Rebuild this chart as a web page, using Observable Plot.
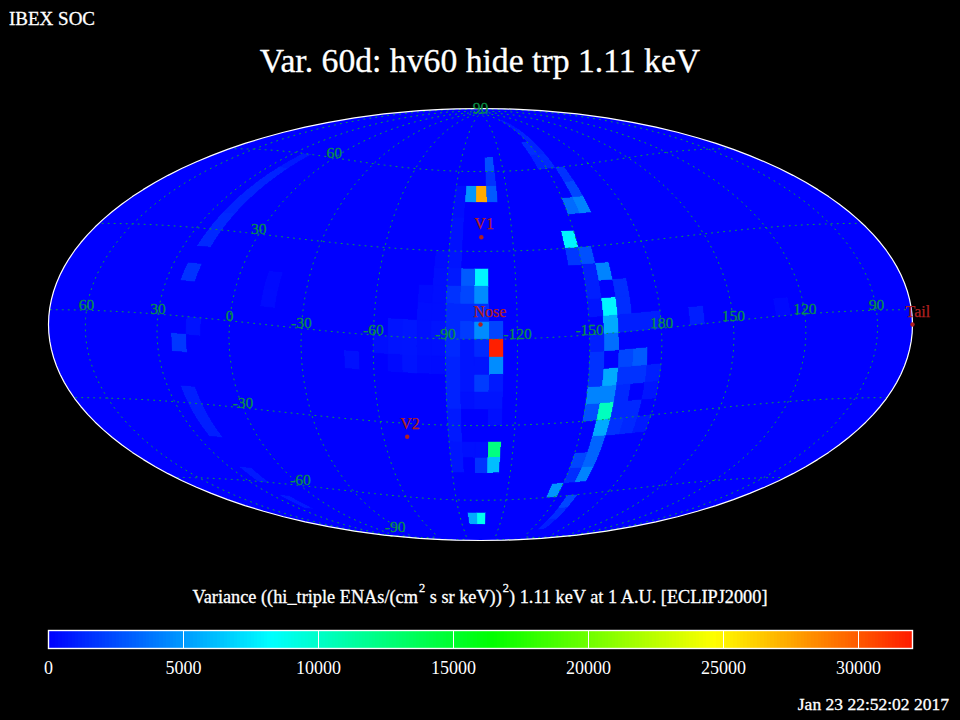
<!DOCTYPE html>
<html><head><meta charset="utf-8">
<script src="https://cdn.jsdelivr.net/npm/d3@7"></script>
<script src="https://cdn.jsdelivr.net/npm/@observablehq/plot@0.6"></script>
<style>
html,body{margin:0;background:#000;color:#fff}
body{position:relative;width:960px;height:720px;overflow:hidden;font-family:"Liberation Serif",serif}
.t{position:absolute;white-space:nowrap;color:#fff;-webkit-text-stroke:0.3px #fff}
sup{font-size:68%;line-height:0;vertical-align:baseline;position:relative;top:-.85em;margin-left:1px}
svg{display:block;background:transparent}
#map,#bar{position:absolute;left:0}
#map{top:100px}#bar{top:620px}
</style></head><body>
<div class="t" style="left:9px;top:8px;font-size:19px">IBEX SOC</div>
<div class="t" id="title" style="left:0;width:960px;text-align:center;top:42px;font-size:33.7px">Var. 60d: hv60 hide trp 1.11 keV</div>
<div id="map"></div>
<div class="t" style="left:0;width:960px;text-align:center;top:587px;font-size:18.3px">Variance ((hi_triple ENAs/(cm<sup>2</sup> s sr keV))<sup>2</sup>) 1.11 keV at 1 A.U. [ECLIPJ2000]</div>
<div id="bar"></div>
<div class="t" style="right:11px;top:694px;font-size:17.5px">Jan 23 22:52:02 2017</div>
<script>
// Variance per 6-degree sky pixel: each column is [lower latitude edge, variance],
// named after the lower ecliptic longitude edge.
const col12=[[-6,580]];
const col18=[[54,800],[48,1130],[42,1130],[36,1130],[30,1290],[24,1290],[12,1600],[-12,1770],[-30,960],[-36,960],[-42,960],[-60,800],[-72,800]];
const col126=[[0,300]];
const col162=[[0,960]];
const col180=[[0,960],[-18,960],[-24,640],[-36,800]];
const col186=[[0,960],[-12,2900],[-18,1600],[-30,1290],[-36,1290]];
const col192=[[12,1450],[6,1450],[0,960],[-12,2250],[-18,1600],[-24,1290],[-30,1290],[-36,1600]];
const col198=[[54,1600],[48,2250],[42,4200],[18,4200],[12,0],[6,7900],[0,5470],[-6,3540],[-12,0],[-18,5470],[-24,4200],[-30,10300],[-36,5470],[-42,3220],[-48,3220],[-54,4200],[-66,2250],[-72,1450],[-78,960]];
const col204=[[78,800],[72,1130],[66,1100],[60,1290],[42,3400],[24,2570],[18,960],[12,960],[6,640],[-6,960],[-12,1600],[-18,1600],[-24,4200],[-30,2570],[-48,2250],[-54,1450]];
const col210=[[66,1450],[60,1130],[30,7900],[24,1770],[-60,4800]];
const col246=[[60,2570],[54,1600],[48,2900],[0,2200],[-6,31800],[-12,4500],[-18,800],[-24,640],[-30,480],[-42,12280],[-48,6100]];
const col252=[[48,27330],[18,7900],[12,4500],[6,1450],[0,4500],[-6,1300],[-12,640],[-18,1900],[-24,640],[-42,480],[-48,1600],[-72,8700]];
const col258=[[48,4800],[18,2900],[12,2250],[6,1290],[0,1900],[-6,640],[-12,640],[-18,640],[-24,480],[-42,480],[-72,5500]];
const col264=[[48,400],[42,400],[36,500],[30,500],[24,640],[18,800],[12,1600],[6,1290],[0,1300],[-6,1300],[-12,1100],[-18,1100],[-24,1100],[-30,800],[-36,800],[-42,640],[-48,640]];
const col270=[[24,350],[18,450],[12,450],[6,450],[0,600],[-6,480],[-12,350]];
const col276=[[12,350],[6,450],[0,480],[-6,480],[-12,380]];
const col282=[[0,700],[-6,650],[-12,600]];
const col288=[[0,600],[-6,600],[-12,300]];
const col294=[[-6,450]];
const col306=[[-12,500]];
const col342=[[12,300],[6,350]];
const columns=[[12,col12],[18,col18],[126,col126],[162,col162],[180,col180],[186,col186],[192,col192],[198,col198],[204,col204],[210,col210],[246,col246],[252,col252],[258,col258],[264,col264],[270,col270],[276,col276],[282,col282],[288,col288],[294,col294],[306,col306],[342,col342]];

const lonLabels=[60,30,0,-30,-60,-90,-120,-150,180,150,120,90];
const latLabels=[["90",0,90],["60",0,60],["30",0,30],["-30",0,-30],["-60",0,-60],["-90",343,-83.5]];
const places=[["Nose",255.4,5],["V1",255,35],["V2",289,-35],["Tail",75.4,-5]];
const barTicks=[0,5000,10000,15000,20000,25000,30000];
const colorStops=[0,8200,16400,24600,32800];
const colorNames=["#0000ff","#00ffff","#00ff00","#ffff00","#ff0000"];
const barMax=32000;

const cells=columns.flatMap(([lon,rows])=>rows.map(([lat,v])=>({
  v,type:"Polygon",
  coordinates:[[[lon,lat],[lon,lat+3],[lon,lat+6],[lon+3,lat+6],[lon+6,lat+6],[lon+6,lat+3],[lon+6,lat],[lon+3,lat],[lon,lat]]]
})));

function mollweide(l,p){
  let t=p;
  for(let i=0;i<40;i++){
    const c=1+Math.cos(2*t);
    if(c<1e-9)break;
    const d=(2*t+Math.sin(2*t)-Math.PI*Math.sin(p))/(2*c);
    t-=d;
    if(Math.abs(d)<1e-9)break;
  }
  return [2*Math.SQRT2/Math.PI*l*Math.cos(t),Math.SQRT2*Math.sin(t)];
}
const projection=d3.geoProjection(mollweide)
  .rotate([-255.4,-5]).reflectX(true).scale(152.735).translate([480,224]).precision(0.2);
const graticule=d3.geoGraticule().stepMajor([30,30]).stepMinor([30,30]).precision(2)();
const colorScale={type:"linear",domain:colorStops,range:colorNames,interpolate:"rgb",clamp:true};
const green="#0a9048", red="#b02020";

document.getElementById("map").append(Plot.plot({
  width:960,height:460,margin:0,projection,
  style:{background:"transparent",fontFamily:"Liberation Serif"},
  color:colorScale,
  marks:[
    Plot.sphere({fill:"#0000ff",stroke:"none"}),
    Plot.geo(cells,{fill:d=>d.v,stroke:d=>d.v,strokeWidth:0.3,shapeRendering:"crispEdges"}),
    Plot.geo(graticule,{stroke:"#0a9c4a",strokeWidth:1,strokeDasharray:"1 5",fill:"none"}),
    Plot.sphere({stroke:"white",strokeWidth:1.2}),
    Plot.text(lonLabels,{x:d=>d,y:()=>0,text:d=>String(d),fill:green,stroke:green,strokeWidth:0.3,fontSize:15.5,lineAnchor:"bottom",dy:0}),
    Plot.text(latLabels,{x:d=>d[1],y:d=>d[2],text:d=>d[0],fill:green,stroke:green,strokeWidth:0.3,fontSize:15.5,lineAnchor:"bottom",dy:0}),
    Plot.dot(places,{x:d=>d[1],y:d=>d[2],r:2.2,fill:red}),
    Plot.text(places,{x:d=>d[1],y:d=>d[2],text:d=>d[0],fill:red,stroke:red,strokeWidth:0.25,fontSize:16,textAnchor:"start",lineAnchor:"bottom",dx:-7,dy:-8})
  ]
}));

const step=barMax/256;
const levels=d3.range(0,barMax,step);
document.getElementById("bar").append(Plot.plot({
  width:960,height:62,marginLeft:48,marginRight:48,marginTop:10,marginBottom:34,
  style:{background:"transparent",color:"white",fontFamily:"Liberation Serif"},
  x:{domain:[0,barMax],axis:null},
  y:{domain:[0,1],axis:null},
  color:colorScale,
  marks:[
    Plot.rect(levels,{x1:d=>d,x2:d=>d+step,y1:()=>0,y2:()=>1,fill:d=>d,shapeRendering:"crispEdges"}),
    Plot.ruleX(barTicks,{stroke:"white",strokeWidth:1}),
    Plot.frame({stroke:"white",strokeWidth:1.4}),
    Plot.axisX(barTicks,{anchor:"bottom",tickSize:0,tickPadding:13,fill:"white",stroke:"white",strokeWidth:0.3,tickFormat:d=>String(d),fontSize:18,label:null})
  ]
}));
</script></body></html>
